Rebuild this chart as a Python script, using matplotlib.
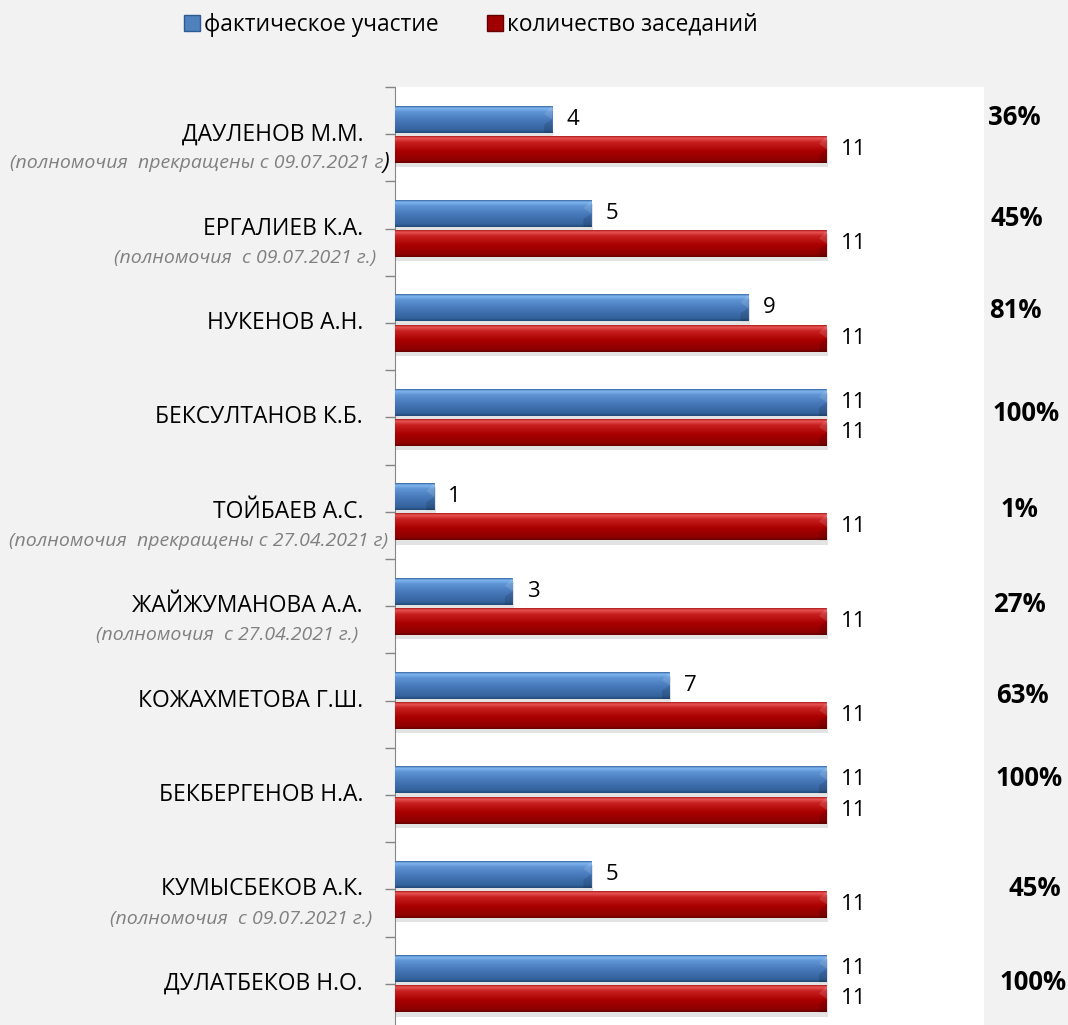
import numpy as np
import matplotlib
matplotlib.use("Agg")
import matplotlib.pyplot as plt
import matplotlib.patheffects as pe
from matplotlib.patches import Patch
from matplotlib.transforms import blended_transform_factory

plt.rcParams['font.family'] = ['Open Sans', 'DejaVu Sans']

names = ["ДАУЛЕНОВ М.М.", "ЕРГАЛИЕВ К.А.", "НУКЕНОВ А.Н.", "БЕКСУЛТАНОВ К.Б.",
         "ТОЙБАЕВ А.С.", "ЖАЙЖУМАНОВА А.А.", "КОЖАХМЕТОВА Г.Ш.", "БЕКБЕРГЕНОВ Н.А.",
         "КУМЫСБЕКОВ А.К.", "ДУЛАТБЕКОВ Н.О."]
notes = ["(полномочия  прекращены с 09.07.2021 г", "(полномочия  с 09.07.2021 г.)", "", "",
         "(полномочия  прекращены с 27.04.2021 г)", "(полномочия  с 27.04.2021 г.)", "", "",
         "(полномочия  с 09.07.2021 г.)", ""]
attended = [4, 5, 9, 11, 1, 3, 7, 11, 5, 11]
meetings = [11, 11, 11, 11, 11, 11, 11, 11, 11, 11]
percent = ["36%", "45%", "81%", "100%", "1%", "27%", "63%", "100%", "45%", "100%"]

# layout nudges (pixels): percent boxes and right edges of the italic notes
pct_dx = [-8, -5, -7, 4, -3, -3, 0, 7, 13, 11]
pct_dy = [-17, -10, -12, -4, -2, -2, -5, -16, -1, -1]
note_right = [383, 376, 0, 0, 388, 358, 0, 0, 372, 0]

W, H = 1068, 1025
fig = plt.figure(figsize=(W / 100, H / 100), dpi=100)
fig.patch.set_facecolor('#f2f2f2')
ax = fig.add_axes([395 / W, 1 - 1031 / H, (984 - 395) / W, (1031 - 87) / H])
ax.set_facecolor('white')

y = np.arange(len(names))
bh = 0.285
off = 0.16

blue_stops = ([0, 0.07, 0.22, 0.55, 0.9, 1],
              ['#3a6aa5', '#80b6f0', '#5d93d4', '#4677b8', '#33629c', '#234a78'])
red_stops = ([0, 0.07, 0.22, 0.55, 0.9, 1],
             ['#b01e1e', '#e85454', '#c82020', '#aa0000', '#8e0000', '#680000'])


def grad(stops, n=64):
    pos, cols = stops
    rgb = np.array([matplotlib.colors.to_rgb(c) for c in cols])
    t = np.linspace(0, 1, n)
    img = np.stack([np.interp(t, pos, rgb[:, k]) for k in range(3)], axis=1)
    return img[:, None, :]


shadow = [pe.SimplePatchShadow(offset=(1, -3), shadow_rgbFace='#909090', alpha=0.25), pe.Normal()]
b1 = ax.barh(y - off, attended, height=bh, color='#4f81bd', zorder=2, path_effects=shadow)
b2 = ax.barh(y + off, meetings, height=bh, color='#a00000', zorder=2, path_effects=shadow)

for bars, stops in ((b1, blue_stops), (b2, red_stops)):
    img = grad(stops)
    for p in bars:
        x0, y0, w, h = p.get_x(), p.get_y(), p.get_width(), p.get_height()
        im = ax.imshow(img, extent=(x0, x0 + w, y0 + h, y0), aspect='auto',
                       origin='upper', zorder=3, interpolation='bilinear')
        im.set_clip_path(p)
        # bevelled right end: light upper facet, dark lower facet
        ch = 0.2
        ax.fill([x0 + w - ch, x0 + w, x0 + w], [y0 + h * 0.3, y0, y0 + h * 0.5],
                color='white', alpha=0.12, lw=0, zorder=4)
        ax.fill([x0 + w - ch, x0 + w, x0 + w, x0 + w - ch], [y0 + h * 0.7, y0 + h * 0.5, y0 + h, y0 + h],
                color='black', alpha=0.12, lw=0, zorder=4)

for i in range(len(names)):
    ax.text(attended[i] + 0.36, y[i] - off, str(attended[i]), va='center', ha='left', fontsize=16)
    ax.text(meetings[i] + 0.36, y[i] + off, str(meetings[i]), va='center', ha='left', fontsize=16)

ax.set_xlim(0, 15)
ax.set_ylim(len(names) - 0.5, -0.5)
ax.set_xticks([])
ax.set_yticks(np.arange(-0.5, len(names) + 0.5, 1))
ax.set_yticks(y, minor=True)
ax.tick_params(axis='y', which='both', direction='out', length=7, color='#868686',
               labelleft=False, width=1)
for s in ['top', 'right', 'bottom']:
    ax.spines[s].set_visible(False)
ax.spines['left'].set_color('#868686')

tr = blended_transform_factory(fig.transFigure, ax.transData)
px = 1 / W
for i in range(len(names)):
    ax.text(363 * px, y[i], names[i], transform=tr, ha='right', va='center', fontsize=16.5)
    if notes[i]:
        ax.text(note_right[i] * px, y[i] + 0.31, notes[i], transform=tr, ha='right',
                va='center', fontsize=14, style='italic', color='#808080')
    ax.annotate(percent[i], xy=(1022 * px, y[i]), xycoords=tr,
                xytext=(pct_dx[i], -pct_dy[i]), textcoords='offset pixels',
                ha='center', va='center', fontsize=18.5, fontweight='bold')

# the stray closing bracket after the first note
ax.text(383 * px, y[0] + 0.3, ")", transform=tr, ha='left', va='center',
        fontsize=17, style='italic', color='black')

handles = [Patch(facecolor='#4f81bd', edgecolor='#2d5a90'),
           Patch(facecolor='#a00000', edgecolor='#600000')]
fig.legend(handles, ["фактическое участие", "количество заседаний"], loc='center',
           bbox_to_anchor=(471 / W, 1 - 25 / H), ncol=2, frameon=False, fontsize=16.4,
           handlelength=0.7, handleheight=0.7, handletextpad=0.2, columnspacing=2.1)

fig.savefig("out.png", dpi=100, facecolor=fig.get_facecolor())
